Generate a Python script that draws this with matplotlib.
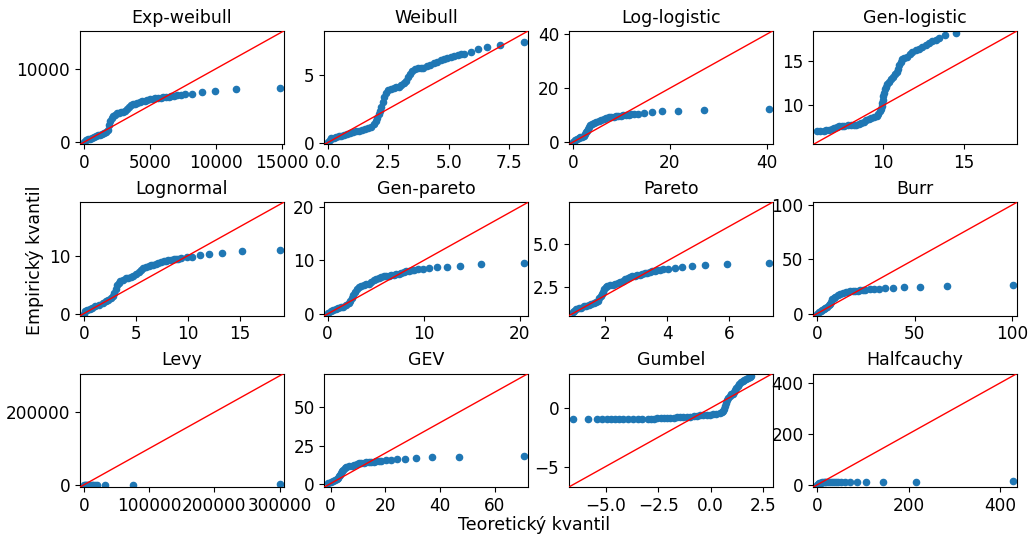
import matplotlib
matplotlib.use("Agg")
import matplotlib.pyplot as plt
import numpy as np

plt.rcParams["font.size"] = 12.5
plt.rcParams["xtick.labelsize"] = 12.2
plt.rcParams["ytick.labelsize"] = 12.2

TITLES = [
    "Exp-weibull", "Weibull", "Log-logistic", "Gen-logistic",
    "Lognormal", "Gen-pareto", "Pareto", "Burr",
    "Levy", "GEV", "Gumbel", "Halfcauchy",
]

# theoretical (x) and empirical (y) quantiles per fitted distribution
expweibull_teor = [0, 150, 300, 450, 600, 750, 900, 1050, 1200, 1350, 1500, 1650, 1800, 1900, 2000, 2100, 2200,
                   2350, 2500, 2650, 2800, 2950, 3100, 3250, 3400, 3550, 3700, 3850, 4000, 4200, 4400, 4600, 4800,
                   5000, 5200, 5400, 5600, 5800, 6000, 6200, 6400, 6600, 6800, 7050, 7300, 7650, 8200, 8900, 9900,
                   11500, 14800]
expweibull_emp = [0, 250, 400, 500, 620, 720, 850, 950, 1050, 1150, 1250, 1400, 1700, 2300, 2900, 3300, 3550,
                  3750, 3900, 4000, 4100, 4150, 4250, 4500, 4800, 5000, 5150, 5250, 5350, 5450, 5550, 5650, 5750,
                  5850, 5900, 5950, 6000, 6050, 6100, 6150, 6200, 6250, 6300, 6350, 6400, 6500, 6600, 6800, 7000,
                  7200, 7400]

weibull_teor = [0.02, 0.08, 0.15, 0.25, 0.35, 0.45, 0.56, 0.68, 0.8, 0.92, 1.05, 1.18, 1.3, 1.42, 1.55, 1.68, 1.8,
                1.92, 2.0, 2.05, 2.1, 2.15, 2.2, 2.26, 2.33, 2.4, 2.5, 2.61, 2.72, 2.82, 2.93, 3.04, 3.15, 3.25,
                3.32, 3.39, 3.48, 3.6, 3.72, 3.84, 3.95, 4.1, 4.24, 4.38, 4.52, 4.66, 4.8, 4.94, 5.08, 5.22, 5.37,
                5.51, 5.65, 5.9, 6.21, 6.6, 7.13, 8.12]
weibull_emp = [0.05, 0.2, 0.3, 0.35, 0.4, 0.45, 0.5, 0.55, 0.62, 0.68, 0.75, 0.82, 0.88, 0.95, 1.0, 1.08, 1.18,
               1.35, 1.6, 1.85, 2.1, 2.35, 2.6, 3.0, 3.4, 3.7, 3.9, 4.0, 4.05, 4.1, 4.15, 4.25, 4.4, 4.6, 4.85, 5.1,
               5.3, 5.45, 5.5, 5.52, 5.55, 5.65, 5.75, 5.88, 6.0, 6.1, 6.2, 6.28, 6.35, 6.42, 6.5, 6.55, 6.6, 6.75,
               6.93, 7.08, 7.25, 7.43]

loglogistic_teor = [0, 0.2, 0.5, 0.9, 1.25, 1.57, 1.9, 2.25, 2.55, 2.8, 3.0, 3.2, 3.4, 3.6, 3.9, 4.3, 4.8, 5.3, 5.8,
                    6.35, 6.9, 7.4, 7.9, 8.4, 8.9, 9.4, 9.9, 10.4, 10.9, 11.5, 12.0, 12.5, 13.5, 14.7, 16.2, 18.4,
                    21.6, 27.0, 40.3]
loglogistic_emp = [0, 0.24, 0.7, 1.2, 1.5, 1.8, 2.1, 2.4, 3.0, 3.6, 4.3, 4.85, 5.6, 6.3, 6.6, 7.0, 7.5, 7.9, 8.3,
                   8.7, 9.0, 9.2, 9.35, 9.45, 9.6, 9.7, 9.8, 9.9, 10.05, 10.2, 10.25, 10.3, 10.5, 10.8, 11.0, 11.4,
                   11.6, 11.9, 12.1]

genlogistic_teor = [5.9, 6.1, 6.3, 6.47, 6.63, 6.8, 6.95, 7.1, 7.26, 7.42, 7.58, 7.8, 8.0, 8.16, 8.32, 8.48, 8.63,
                    8.8, 8.95, 9.1, 9.26, 9.42, 9.58, 9.7, 9.79, 9.85, 9.9, 9.93, 9.96, 10.0, 10.04, 10.1, 10.15,
                    10.25, 10.36, 10.5, 10.63, 10.74, 10.84, 10.92, 11.0, 11.08, 11.16, 11.3, 11.47, 11.63, 11.79,
                    12.0, 12.2, 12.4, 12.63, 12.84, 13.05, 13.26, 13.47, 13.83, 14.53]
genlogistic_emp = [7.13, 7.13, 7.17, 7.22, 7.3, 7.4, 7.5, 7.6, 7.68, 7.72, 7.76, 7.78, 7.8, 7.83, 7.87, 7.95, 8.05,
                   8.2, 8.35, 8.48, 8.6, 8.72, 8.86, 9.05, 9.34, 9.6, 9.9, 10.25, 10.6, 11.0, 11.4, 11.8, 12.1,
                   12.4, 12.65, 12.9, 13.2, 13.45, 13.75, 14.1, 14.5, 14.85, 15.2, 15.3, 15.4, 15.7, 15.96, 16.13,
                   16.3, 16.5, 16.76, 16.95, 17.13, 17.33, 17.54, 17.87, 18.05]

lognormal_teor = [0, 0.15, 0.32, 0.55, 0.8, 1.1, 1.45, 1.8, 2.1, 2.35, 2.57, 2.75, 2.9, 3.05, 3.2, 3.35, 3.5, 3.75,
                  4.0, 4.25, 4.5, 4.75, 5.0, 5.25, 5.47, 5.7, 5.95, 6.2, 6.4, 6.65, 6.9, 7.15, 7.4, 7.65, 7.88, 8.1,
                  8.36, 8.6, 8.84, 9.05, 9.3, 9.87, 10.4, 11.1, 12.0, 13.3, 15.2, 18.8]
lognormal_emp = [0, 0.4, 0.69, 0.83, 0.97, 1.25, 1.54, 1.8, 2.11, 2.4, 2.69, 3.1, 3.54, 4.3, 4.97, 5.3, 5.54, 5.8,
                 6.1, 6.2, 6.29, 6.55, 6.86, 7.2, 7.54, 7.8, 8.0, 8.15, 8.29, 8.4, 8.57, 8.7, 8.86, 8.98, 9.09, 9.18,
                 9.26, 9.35, 9.43, 9.48, 9.54, 9.66, 9.83, 10.06, 10.3, 10.5, 10.7, 11.0]

genpareto_teor = [0.07, 0.3, 0.6, 0.85, 1.12, 1.38, 1.64, 1.9, 2.17, 2.35, 2.52, 2.65, 2.8, 3.0, 3.22, 3.48, 3.74,
                  4.0, 4.27, 4.55, 4.8, 5.05, 5.31, 5.58, 5.84, 6.1, 6.36, 6.63, 6.9, 7.15, 7.41, 7.68, 7.94, 8.2,
                  8.46, 8.73, 9.0, 9.44, 9.93, 10.56, 11.36, 12.4, 13.8, 16.0, 20.45]
genpareto_emp = [0.25, 0.5, 0.74, 0.9, 1.05, 1.2, 1.36, 1.65, 1.98, 2.4, 2.9, 3.5, 4.14, 4.6, 4.94, 5.15, 5.37, 5.5,
                 5.68, 6.0, 6.3, 6.6, 6.79, 6.95, 7.04, 7.07, 7.1, 7.2, 7.35, 7.45, 7.53, 7.7, 7.84, 7.95, 8.09,
                 8.15, 8.2, 8.33, 8.46, 8.52, 8.7, 8.83, 8.95, 9.26, 9.5]

pareto_teor = [0.95, 1.0, 1.06, 1.14, 1.22, 1.3, 1.38, 1.46, 1.54, 1.62, 1.7, 1.76, 1.81, 1.85, 1.88, 1.92, 1.97,
               2.02, 2.07, 2.15, 2.24, 2.32, 2.4, 2.48, 2.56, 2.64, 2.72, 2.8, 2.88, 2.96, 3.04, 3.12, 3.2, 3.28,
               3.36, 3.44, 3.52, 3.6, 3.68, 3.78, 3.87, 4.03, 4.24, 4.48, 4.8, 5.21, 5.93, 7.28]
pareto_emp = [1.04, 1.1, 1.19, 1.25, 1.3, 1.36, 1.41, 1.46, 1.51, 1.55, 1.6, 1.7, 1.83, 1.95, 2.08, 2.22, 2.37,
              2.47, 2.56, 2.6, 2.63, 2.66, 2.71, 2.78, 2.84, 2.95, 3.03, 3.08, 3.13, 3.15, 3.17, 3.2, 3.23, 3.28,
              3.32, 3.36, 3.4, 3.43, 3.45, 3.48, 3.51, 3.55, 3.59, 3.65, 3.7, 3.75, 3.83, 3.89]

burr_teor = [0, 0.8, 1.7, 2.5, 3.4, 4.2, 5.1, 5.8, 6.46, 7.0, 7.65, 8.5, 9.35, 10.6, 11.9, 13.2, 14.5, 15.8, 17.0,
             18.3, 19.6, 20.9, 22.1, 23.4, 24.7, 26.9, 29.3, 31.8, 34.9, 38.8, 44.2, 52.4, 66.7, 100.3]
burr_emp = [0, 1.0, 2.1, 3.3, 4.5, 5.3, 6.06, 7.5, 9.1, 11.0, 13.0, 14.2, 15.2, 16.8, 18.2, 19.0, 19.7, 20.0, 20.3,
            20.6, 20.9, 21.05, 21.2, 21.35, 21.5, 22.1, 22.7, 22.7, 23.3, 23.9, 24.2, 24.8, 25.2, 25.8]

levy_teor = [0, 1500, 3000, 4500, 6000, 8000, 10000, 12000, 14000, 16500, 19500, 33000, 74500, 300000]
levy_emp = [0, 200, 300, 400, 450, 500, 550, 600, 650, 700, 750, 800, 850, 900]

gev_teor = [-0.8, 0.2, 1.0, 1.6, 2.2, 2.7, 3.2, 3.5, 3.8, 4.2, 4.6, 5.2, 5.8, 6.8, 7.7, 8.6, 9.5, 10.4, 11.3, 12.2,
            13.1, 14.0, 14.9, 15.8, 16.8, 17.7, 18.6, 20.4, 22.2, 24.4, 27.3, 31.1, 37.2, 47.1, 70.8]
gev_emp = [0.1, 0.8, 1.5, 2.2, 3.0, 3.9, 4.8, 5.9, 7.0, 8.1, 9.1, 10.0, 10.9, 11.3, 11.7, 12.3, 12.8, 13.2, 13.5,
           13.7, 13.9, 14.1, 14.3, 14.45, 14.6, 14.8, 15.0, 15.2, 15.4, 15.9, 16.3, 16.7, 17.2, 17.4, 17.8]

gumbel_teor = [-6.56, -5.84, -5.42, -5.16, -4.95, -4.75, -4.56, -4.38, -4.18, -3.94, -3.71, -3.48, -3.25, -3.0,
               -2.85, -2.7, -2.54, -2.38, -2.22, -2.07, -1.92, -1.76, -1.6, -1.45, -1.3, -1.14, -0.98, -0.82, -0.66,
               -0.51, -0.35, -0.2, -0.05, 0.11, 0.26, 0.42, 0.52, 0.58, 0.63, 0.68, 0.73, 0.78, 0.84, 0.89, 0.96,
               1.04, 1.1, 1.15, 1.22, 1.28, 1.36, 1.43, 1.51, 1.59, 1.68, 1.77, 1.85, 1.92]
gumbel_emp = [-0.98, -0.98, -0.98, -0.98, -0.98, -0.98, -0.98, -0.98, -0.98, -0.98, -0.97, -0.96, -0.95, -0.93,
              -0.92, -0.9, -0.89, -0.87, -0.86, -0.85, -0.83, -0.82, -0.8, -0.79, -0.78, -0.77, -0.74, -0.71, -0.67,
              -0.63, -0.62, -0.6, -0.58, -0.55, -0.5, -0.44, -0.36, -0.27, -0.08, 0.14, 0.42, 0.68, 0.88, 1.04,
              1.15, 1.23, 1.36, 1.5, 1.7, 1.91, 2.05, 2.19, 2.3, 2.4, 2.5, 2.6, 2.68, 2.75]

halfcauchy_teor = [0, 2, 4, 6, 8, 11, 14, 17, 20, 24, 28, 32, 36, 41, 46, 52, 60, 71, 87, 107, 144, 215, 428]
halfcauchy_emp = [0, 3, 6, 8, 9, 10, 10.5, 11, 11, 11.3, 11.5, 11.7, 11.8, 11.9, 12, 12.1, 12.2, 12.3, 12.5, 12.6,
                  12.8, 13, 13.2]

QUANTILES = [
    (expweibull_teor, expweibull_emp),
    (weibull_teor, weibull_emp),
    (loglogistic_teor, loglogistic_emp),
    (genlogistic_teor, genlogistic_emp),
    (lognormal_teor, lognormal_emp),
    (genpareto_teor, genpareto_emp),
    (pareto_teor, pareto_emp),
    (burr_teor, burr_emp),
    (levy_teor, levy_emp),
    (gev_teor, gev_emp),
    (gumbel_teor, gumbel_emp),
    (halfcauchy_teor, halfcauchy_emp),
]


def main() -> None:
    fig, axes = plt.subplots(3, 4, figsize=(10.31, 5.37), dpi=100)
    fig.subplots_adjust(left=0.0776, right=0.9864, top=0.9423, bottom=0.0931, wspace=0.2, hspace=0.51)

    for ax, title, (teor, emp) in zip(axes.flat, TITLES, QUANTILES):
        teor = np.asarray(teor, dtype=float)
        emp = np.asarray(emp, dtype=float)
        ax.scatter(teor, emp, s=20, color="C0", zorder=2)

        # identity line over a shared square range
        lo = min(teor.min(), emp.min())
        hi = max(teor.max(), emp.max())
        pad = 0.02 * (hi - lo)
        lims = [lo - pad, hi + pad]
        ax.plot(lims, lims, color="red", linewidth=1, zorder=3)
        ax.set_xlim(lims)
        ax.set_ylim(lims)
        ax.set_title(title, fontsize=12.5)

    fig.text(0.518, 0.022, "Teoretický kvantil", ha="center", va="center", fontsize=12.5)
    fig.text(0.034, 0.516, "Empirický kvantil", ha="center", va="center", rotation=90, fontsize=12.5)

    fig.savefig("out.png", dpi=100)
    plt.close(fig)


if __name__ == "__main__":
    main()
